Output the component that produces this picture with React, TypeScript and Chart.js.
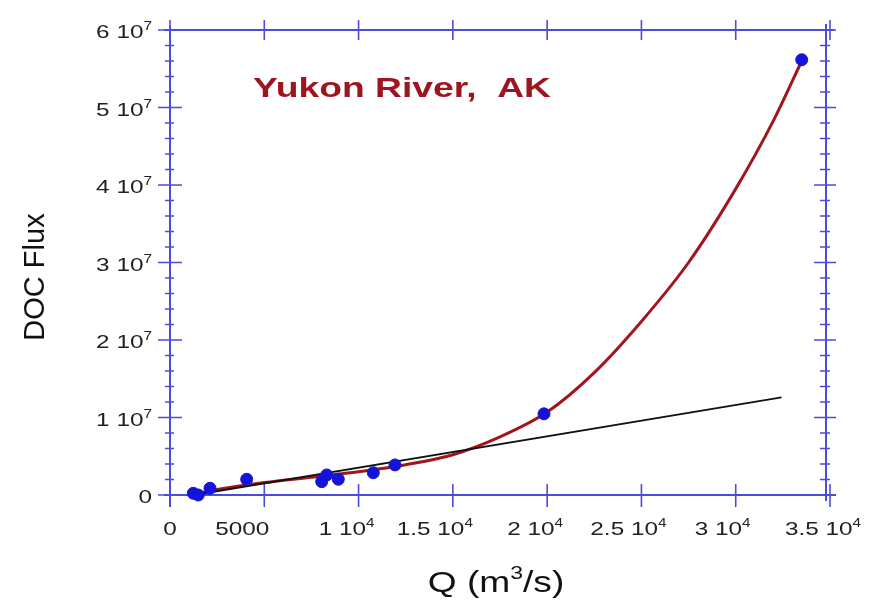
import React, { useEffect, useRef } from "react";
import { Chart, registerables } from "chart.js";

Chart.register(...registerables);

// Observed discharge (m3/s) and DOC flux
const qObs = [1236, 1500, 2121, 4067, 8045, 8310, 8925, 10781, 11932, 19833, 33500];
const fluxObs = [0.22e6, 0.0e6, 0.87e6, 2.03e6, 1.72e6, 2.59e6, 2.03e6, 2.88e6, 3.88e6, 10.47e6, 56.16e6];

// Nonlinear rating curve
const qCurve = [1300, 2500, 5000, 7500, 10000, 12500, 15000, 17500, 20000, 22500, 25000, 27500, 30000, 32000, 33500];
const fluxCurve = [0.1e6, 0.7e6, 1.6e6, 2.3e6, 3.0e6, 3.9e6, 5.2e6, 7.5e6, 10.7e6, 15.8e6, 22.4e6, 30.0e6, 39.5e6, 48.3e6, 56.0e6];

// Linear fit
const qLine = [1300, 32430];
const fluxLine = [0.0e6, 12.6e6];

// Axis ticks
const xTicks = [0, 5000, 10000, 15000, 20000, 25000, 30000, 35000];
const xTickText = ["0", "5000", "1 10", "1.5 10", "2 10", "2.5 10", "3 10", "3.5 10"];
const xTickExp = ["", "", "4", "4", "4", "4", "4", "4"];
const yTicks = [0, 1e7, 2e7, 3e7, 4e7, 5e7, 6e7];
const yTickText = ["0", "1 10", "2 10", "3 10", "4 10", "5 10", "6 10"];
const yTickExp = ["", "7", "7", "7", "7", "7", "7"];

const title = "Yukon River,  AK";

const FAMILY = '"Liberation Sans", Arial, Helvetica, sans-serif';
const SX = 1.28;
const AXIS = "#4c4cdc";
// horizontal nudge of each x tick label relative to its tick
const X_LABEL_SHIFT = [0, -22, -12, -18, -12, -13, -13, -7];

type Run = [string, number, number, boolean?];

function drawRuns(ctx: CanvasRenderingContext2D, items: Run[], x: number, y: number, align: string, sx = SX) {
  let w = 0;
  const widths: number[] = [];
  for (const [t, px, , bold] of items) {
    ctx.font = `${bold ? "bold " : ""}${px}px ${FAMILY}`;
    const m = ctx.measureText(t).width;
    widths.push(m);
    w += m;
  }
  const start = align === "right" ? x - w * sx : align === "center" ? x - (w * sx) / 2 : x;
  ctx.save();
  ctx.translate(start, y);
  ctx.scale(sx, 1);
  ctx.textAlign = "left";
  ctx.textBaseline = "alphabetic";
  let cx = 0;
  items.forEach(([t, px, raise, bold], i) => {
    ctx.font = `${bold ? "bold " : ""}${px}px ${FAMILY}`;
    ctx.fillText(t, cx, -raise);
    cx += widths[i];
  });
  ctx.restore();
}

const framePlugin = {
  id: "frame",
  beforeDatasetsDraw(chart: any) {
    const ctx: CanvasRenderingContext2D = chart.ctx;
    const xs = chart.scales.x;
    const ys = chart.scales.y;
    const L = xs.getPixelForValue(0);
    const R = xs.getPixelForValue(35000) - 4;
    const T = ys.getPixelForValue(6e7);
    const B = ys.getPixelForValue(0);
    ctx.save();
    ctx.strokeStyle = AXIS;
    ctx.lineWidth = 2;
    ctx.beginPath();
    ctx.moveTo(L - 6, T);
    ctx.lineTo(R + 8, T);
    ctx.moveTo(L - 6, B);
    ctx.lineTo(R + 10, B);
    ctx.moveTo(L, T - 4);
    ctx.lineTo(L, B + 12);
    ctx.moveTo(R, T - 6);
    ctx.lineTo(R, B + 6);
    ctx.stroke();
    ctx.lineWidth = 1.6;
    ctx.beginPath();
    for (let v = 0; v <= 6e7 + 1; v += 2e6) {
      const py = ys.getPixelForValue(v);
      const major = Math.abs(v % 1e7) < 1;
      if (major) {
        ctx.moveTo(L - 12, py);
        ctx.lineTo(L + 12, py);
        ctx.moveTo(R - 12, py);
        ctx.lineTo(R + 10, py);
      } else {
        ctx.moveTo(L - 5, py);
        ctx.lineTo(L + 4, py);
        ctx.moveTo(R - 6, py);
        ctx.lineTo(R + 4, py);
      }
    }
    for (const v of xTicks) {
      const px = xs.getPixelForValue(v);
      ctx.moveTo(px, B - 11);
      ctx.lineTo(px, B + 12);
      ctx.moveTo(px, T - 10);
      ctx.lineTo(px, T + 10);
    }
    ctx.stroke();
    ctx.restore();
  },
  afterDraw(chart: any) {
    const ctx: CanvasRenderingContext2D = chart.ctx;
    const xs = chart.scales.x;
    const ys = chart.scales.y;
    const B = ys.getPixelForValue(0);
    ctx.save();
    ctx.fillStyle = "#222";
    yTicks.forEach((v, i) => {
      const py = ys.getPixelForValue(v);
      const items: Run[] = [[yTickText[i], 19, 0]];
      if (yTickExp[i]) items.push([yTickExp[i], 12, 8]);
      drawRuns(ctx, items, 152, py + 8, "right");
    });
    xTicks.forEach((v, i) => {
      const px = xs.getPixelForValue(v);
      const items: Run[] = [[xTickText[i], 19, 0]];
      if (xTickExp[i]) items.push([xTickExp[i], 12, 8]);
      drawRuns(ctx, items, px + X_LABEL_SHIFT[i], B + 40, "center");
    });
    // axis titles
    ctx.fillStyle = "#111";
    drawRuns(ctx, [["Q (m", 29, 0], ["3", 18, 13], ["/s)", 29, 0]], 496, 592, "center");
    ctx.save();
    ctx.translate(44, 277);
    ctx.rotate(-Math.PI / 2);
    ctx.font = `29px ${FAMILY}`;
    ctx.textAlign = "center";
    ctx.textBaseline = "alphabetic";
    ctx.fillText("DOC Flux", 0, 0);
    ctx.restore();
    // panel label
    ctx.fillStyle = "#9c1620";
    drawRuns(ctx, [[title, 28, 0, true]], 253, 97, "left", 1.33);
    ctx.restore();
  },
};

export default function App() {
  const ref = useRef<HTMLCanvasElement | null>(null);
  useEffect(() => {
    if (!ref.current) return;
    const chart = new Chart(ref.current, {
      type: "scatter",
      data: {
        datasets: [
          {
            label: "observed",
            data: qObs.map((q, i) => ({ x: q, y: fluxObs[i] })),
            backgroundColor: "#1414d8",
            borderColor: "#1414d8",
            pointRadius: 6,
            pointHoverRadius: 6,
            showLine: false,
            order: 0,
            clip: false,
          },
          {
            label: "linear",
            data: qLine.map((q, i) => ({ x: q, y: fluxLine[i] })),
            borderColor: "#111",
            borderWidth: 1.8,
            pointRadius: 0,
            showLine: true,
            order: 1,
          },
          {
            label: "curve",
            data: qCurve.map((q, i) => ({ x: q, y: fluxCurve[i] })),
            borderColor: "#a0161c",
            borderWidth: 3,
            pointRadius: 0,
            showLine: true,
            cubicInterpolationMode: "monotone",
            order: 2,
          },
        ],
      },
      options: {
        animation: false,
        responsive: false,
        events: [],
        layout: { padding: { left: 170, right: 45, top: 30, bottom: 111 } },
        plugins: { legend: { display: false }, tooltip: { enabled: false } },
        scales: {
          x: { type: "linear", min: 0, max: 35000, display: false },
          y: { type: "linear", min: 0, max: 6e7, display: false },
        },
      },
      plugins: [framePlugin],
    });
    return () => chart.destroy();
  }, []);
  return (
    <div style={{ position: "fixed", left: 0, top: 0, width: 875, height: 606, background: "#fff" }}>
      <canvas ref={ref} width={875} height={606} style={{ display: "block" }} />
    </div>
  );
}
